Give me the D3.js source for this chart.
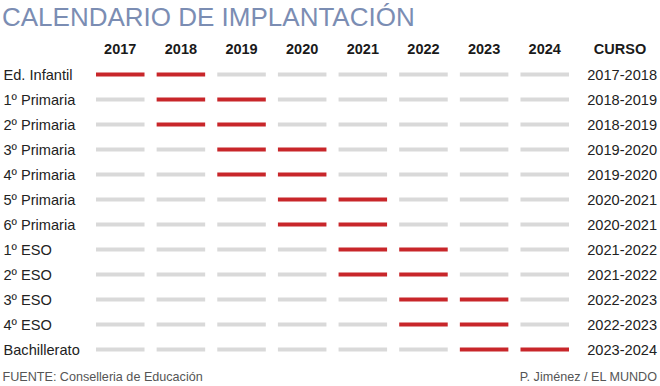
<!DOCTYPE html>
<html>
<head>
<meta charset="utf-8">
<script src="https://cdn.jsdelivr.net/npm/d3@7"></script>
<style>
  body { margin: 0; background: #fff; }
  text { font-family: "Liberation Sans", Arial, sans-serif; }
</style>
</head>
<body>
<script>
// Years (columns) and school levels (rows)
var years = ["2017", "2018", "2019", "2020", "2021", "2022", "2023", "2024"];
var levels = ["Ed. Infantil", "1º Primaria", "2º Primaria", "3º Primaria", "4º Primaria",
              "5º Primaria", "6º Primaria", "1º ESO", "2º ESO", "3º ESO", "4º ESO", "Bachillerato"];
// Years in which each level is being implemented
var active = [
  ["2017", "2018"], ["2018", "2019"], ["2018", "2019"], ["2019", "2020"], ["2019", "2020"],
  ["2020", "2021"], ["2020", "2021"], ["2021", "2022"], ["2021", "2022"], ["2022", "2023"],
  ["2022", "2023"], ["2023", "2024"]
];
var cursos = ["2017-2018", "2018-2019", "2018-2019", "2019-2020", "2019-2020", "2020-2021",
              "2020-2021", "2021-2022", "2021-2022", "2022-2023", "2022-2023", "2023-2024"];

var w = 660, h = 386;

var svg = d3.select("body").append("svg")
    .attr("width", w)
    .attr("height", h);

// Column scale for years, row scale for levels
var xScale = d3.scaleBand()
    .domain(years)
    .range([96, 569])
    .paddingInner(0.2);

var yScale = d3.scaleBand()
    .domain(levels)
    .range([62, 362]);

// Title
svg.append("text")
    .attr("x", 2)
    .attr("y", 26)
    .attr("font-size", "26px")
    .attr("fill", "#7b8db3")
    .text("CALENDARIO DE IMPLANTACIÓN");

// Column headers
svg.selectAll(".year")
    .data(years)
    .enter()
    .append("text")
    .attr("x", function(d) { return xScale(d) + xScale.bandwidth() / 2; })
    .attr("y", 54)
    .attr("text-anchor", "middle")
    .attr("font-size", "14.5px")
    .attr("font-weight", "bold")
    .attr("fill", "#1a1a1a")
    .text(function(d) { return d; });

svg.append("text")
    .attr("x", 620)
    .attr("y", 54)
    .attr("text-anchor", "middle")
    .attr("font-size", "14.5px")
    .attr("font-weight", "bold")
    .attr("fill", "#1a1a1a")
    .text("CURSO");

// One group per row
var rows = svg.selectAll(".row")
    .data(levels)
    .enter()
    .append("g")
    .attr("transform", function(d) {
        return "translate(0," + (yScale(d) + yScale.bandwidth() / 2) + ")";
    });

rows.append("text")
    .attr("x", 3.5)
    .attr("y", 5)
    .attr("font-size", "14.6px")
    .attr("fill", "#222")
    .text(function(d) { return d; });

rows.append("text")
    .attr("x", 657)
    .attr("y", 5)
    .attr("text-anchor", "end")
    .attr("font-size", "14.6px")
    .attr("fill", "#222")
    .text(function(d, i) { return cursos[i]; });

rows.selectAll("rect")
    .data(function(d, i) {
        return years.map(function(y) { return { year: y, on: active[i].indexOf(y) >= 0 }; });
    })
    .enter()
    .append("rect")
    .attr("x", function(d) { return xScale(d.year); })
    .attr("y", -2)
    .attr("width", xScale.bandwidth())
    .attr("height", 4)
    .attr("fill", function(d) { return d.on ? "#c8262a" : "#d9d9d9"; });

// Footer
svg.append("text")
    .attr("x", 2.5)
    .attr("y", 381)
    .attr("font-size", "12.6px")
    .attr("fill", "#555")
    .text("FUENTE: Conselleria de Educación");

svg.append("text")
    .attr("x", 657)
    .attr("y", 381)
    .attr("text-anchor", "end")
    .attr("font-size", "12.6px")
    .attr("fill", "#555")
    .text("P. Jiménez / EL MUNDO");
</script>
</body>
</html>
